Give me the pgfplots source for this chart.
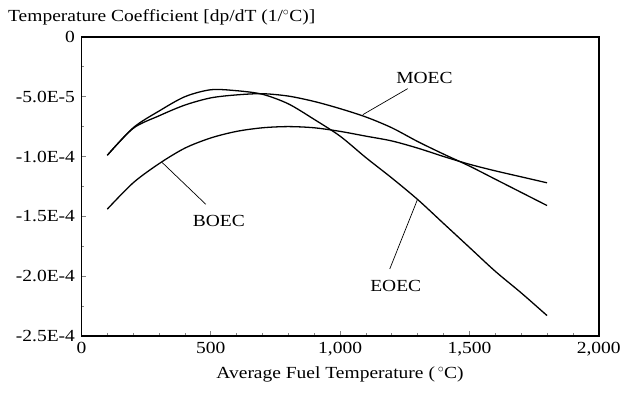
\documentclass[border=0pt]{standalone}
\usepackage{fontspec}
\setmainfont{Liberation Serif}[FakeStretch=1.15]
\usepackage{pgfplots}
\pgfplotsset{compat=1.18}
\begin{document}
\begin{tikzpicture}[font=\fontsize{17bp}{20bp}\selectfont]
\begin{axis}[
  scale only axis, width=519bp, height=300bp,
  xmin=0, xmax=2000, ymin=-25, ymax=0,
  axis line style={line width=1.6pt},
  xtick={0,500,1000,1500,2000},
  xticklabels={0,500,{1,000},{1,500},{2,000}},
  ytick={-25,-20,-15,-10,-5,0},
  yticklabels={-2.5E-4,-2.0E-4,-1.5E-4,-1.0E-4,-5.0E-5,0},
  minor x tick num=4, minor y tick num=1,
  tick pos=left, tick align=inside,
  major tick length=5bp, minor tick length=3bp,
  tick style={line width=0.8pt},
  xticklabel style={yshift=-3bp},
  yticklabel style={xshift=-3bp},
  scaled ticks=false,
  xlabel={Average Fuel Temperature (\,$^\circ$C)},
  xlabel style={yshift=-4bp},
  clip=false,
]
\addplot[line width=1.3pt, smooth] coordinates {
(100,-9.9) (200,-7.6) (300,-6.2) (400,-5.0) (500,-4.42) (600,-4.5) (700,-4.8)
(800,-5.6) (900,-6.9) (1000,-8.3) (1100,-10.1) (1200,-11.8) (1300,-13.6)
(1400,-15.6) (1500,-17.6) (1600,-19.6) (1700,-21.4) (1800,-23.3)};
\addplot[line width=1.3pt, smooth] coordinates {
(100,-9.9) (200,-7.65) (300,-6.6) (400,-5.7) (500,-5.1) (600,-4.85) (700,-4.75)
(800,-4.95) (900,-5.4) (1000,-6.0) (1100,-6.7) (1200,-7.6) (1300,-8.75)
(1400,-9.8) (1500,-10.8) (1600,-11.9) (1700,-13.0) (1800,-14.1)};
\addplot[line width=1.3pt, smooth] coordinates {
(100,-14.4) (200,-12.2) (300,-10.6) (400,-9.3) (500,-8.45) (600,-7.9) (700,-7.6)
(800,-7.5) (900,-7.6) (1000,-7.9) (1100,-8.3) (1200,-8.7) (1300,-9.3)
(1400,-10.0) (1500,-10.65) (1600,-11.2) (1700,-11.7) (1800,-12.2)};
\draw[line width=0.7pt] (axis cs:1261,-4.33) -- (axis cs:1088,-6.5);
\node at (axis cs:1326,-3.42) {MOEC};
\draw[line width=0.7pt] (axis cs:1192,-19.4) -- (axis cs:1299,-13.6);
\node at (axis cs:1215,-20.83) {EOEC};
\draw[line width=0.7pt] (axis cs:312,-10.5) -- (axis cs:481,-14.0);
\node at (axis cs:531,-15.4) {BOEC};
\end{axis}
\node[anchor=base west, inner sep=0pt] at (-73.7bp,315bp) {Temperature Coefficient [dp/dT (1/$^\circ$C)]};
\path (-81.7bp,-58bp) rectangle (542.3bp,337bp);
\end{tikzpicture}
\end{document}
